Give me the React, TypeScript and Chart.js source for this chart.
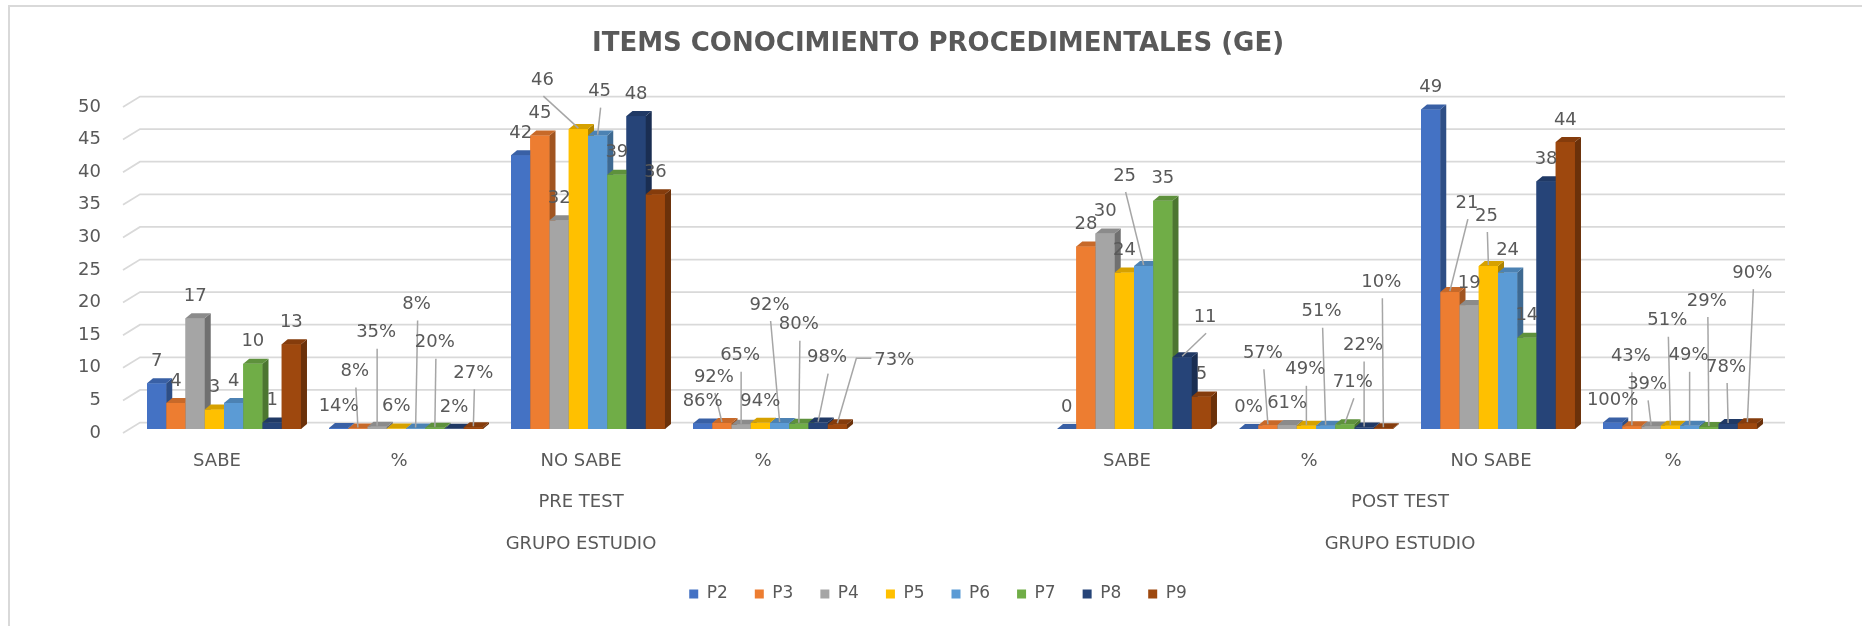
import React, { useEffect, useRef } from 'react';
import { Chart, registerables } from 'chart.js';

Chart.register(...registerables);

// ---------- DATA ----------
const TITLE = 'ITEMS CONOCIMIENTO PROCEDIMENTALES (GE)';
const CATEGORIES = ['SABE', '%', 'NO SABE', '%', '', 'SABE', '%', 'NO SABE', '%'];
const GROUP_LABELS = ['PRE TEST', 'POST TEST'];
const GROUP_RANGES: [number, number][] = [[0, 4], [5, 8]];
const SUPER_GROUP_LABEL = 'GRUPO ESTUDIO';
const SERIES_NAMES = ['P2', 'P3', 'P4', 'P5', 'P6', 'P7', 'P8', 'P9'];

const P2 = [7, 0.14, 42, 0.86, null, 0, 0, 49, 1.0];
const P3 = [4, 0.08, 45, 0.92, null, 28, 0.57, 21, 0.43];
const P4 = [17, 0.35, 32, 0.65, null, 30, 0.61, 19, 0.39];
const P5 = [3, 0.06, 46, 0.94, null, 24, 0.49, 25, 0.51];
const P6 = [4, 0.08, 45, 0.92, null, 25, 0.51, 24, 0.49];
const P7 = [10, 0.2, 39, 0.8, null, 35, 0.71, 14, 0.29];
const P8 = [1, 0.02, 48, 0.98, null, 11, 0.22, 38, 0.78];
const P9 = [13, 0.27, 36, 0.73, null, 5, 0.1, 44, 0.9];
const SERIES_VALUES = [P2, P3, P4, P5, P6, P7, P8, P9];

const Y_MIN = 0;
const Y_MAX = 50;
const Y_STEP = 5;

// ---------- STYLE ----------
const COLORS = ['#4472C4', '#ED7D31', '#A5A5A5', '#FFC000', '#5B9BD5', '#70AD47', '#264478', '#9E480E'];
const TEXT_COLOR = '#595959';
const GRID_COLOR = '#D9D9D9';
const FONT = '"DejaVu Sans", sans-serif';

// 3D depth of bars and walls (px)
const BAR_DX = 6;
const BAR_DY = 5;
const WALL_FRONT = [-10, 4];
const WALL_BACK = [7, -6.5];
const WALL_RIGHT_EXTRA = 14;
const X_LABEL_SHIFT = -7;

// manually dragged data labels: key "series-category" -> [dx, dy, sideLeader]
const LABEL_OFFSETS: Record<string, [number, number, boolean?]> = {
  '3-2': [-36, -27], '4-2': [2, -22],
  '1-1': [-3, -35], '2-1': [-1, -72], '4-1': [1, -102], '5-1': [0, -63], '7-1': [0, -32],
  '1-3': [-8, -24], '2-3': [-1, -47], '4-3': [-10, -96], '5-3': [0, -77], '6-3': [9, -43], '7-3': [57, -42, true],
  '4-5': [-19, -68], '6-5': [23, -18],
  '1-6': [-5, -50], '3-6': [-1, -34], '4-6': [-4, -92], '5-6': [8, -20], '6-6': [-1, -60], '7-6': [-2, -124],
  '1-7': [17, -67], '3-7': [-2, -28],
  '1-8': [-1, -48], '2-8': [-4, -20], '3-8': [-3, -83], '4-8': [-1, -48], '5-8': [-2, -104], '6-8': [-2, -35], '7-8': [5, -128],
};

function shade(hex: string, f: number): string {
  const n = parseInt(hex.slice(1), 16);
  const r = Math.round(((n >> 16) & 255) * f);
  const g = Math.round(((n >> 8) & 255) * f);
  const b = Math.round((n & 255) * f);
  return `rgb(${r},${g},${b})`;
}

const backgroundPlugin = {
  id: 'bgBorder',
  beforeDraw(chart: any) {
    const { ctx, width, height } = chart;
    ctx.save();
    ctx.fillStyle = '#FFFFFF';
    ctx.fillRect(0, 0, width, height);
    ctx.strokeStyle = GRID_COLOR;
    ctx.lineWidth = 2;
    ctx.beginPath();
    ctx.moveTo(9, height);
    ctx.lineTo(9, 6);
    ctx.lineTo(width, 6);
    ctx.stroke();
    ctx.restore();
  },
};

const wallGridPlugin = {
  id: 'wallGrid',
  beforeDatasetsDraw(chart: any) {
    const { ctx, chartArea } = chart;
    const ys = chart.scales.y;
    ctx.save();
    ctx.strokeStyle = GRID_COLOR;
    ctx.lineWidth = 1.75;
    for (let v = Y_MIN; v <= Y_MAX; v += Y_STEP) {
      const y = ys.getPixelForValue(v);
      ctx.beginPath();
      ctx.moveTo(chartArea.left + WALL_FRONT[0], y + WALL_FRONT[1]);
      ctx.lineTo(chartArea.left + WALL_BACK[0], y + WALL_BACK[1]);
      ctx.lineTo(chartArea.right + WALL_RIGHT_EXTRA, y + WALL_BACK[1]);
      ctx.stroke();
    }
    ctx.restore();
  },
};

// Redraws every bar as a 3D column, left series first so nearer columns overlap correctly
const bar3dPlugin = {
  id: 'bar3d',
  afterDatasetsDraw(chart: any) {
    const { ctx } = chart;
    ctx.save();
    chart.data.datasets.forEach((ds: any, si: number) => {
      const meta = chart.getDatasetMeta(si);
      const color = COLORS[si];
      meta.data.forEach((el: any, ci: number) => {
        const v = ds.data[ci];
        if (v === null || v === undefined) return;
        const { x, y, base, width } = el.getProps(['x', 'y', 'base', 'width'], true);
        const L = x - width / 2;
        const R = x + width / 2;
        ctx.fillStyle = color;
        ctx.fillRect(L, y, width + 0.3, base - y);
        ctx.fillStyle = shade(color, 0.68);
        ctx.beginPath();
        ctx.moveTo(R, y);
        ctx.lineTo(R + BAR_DX, y - BAR_DY);
        ctx.lineTo(R + BAR_DX, base - BAR_DY);
        ctx.lineTo(R, base);
        ctx.closePath();
        ctx.fill();
        ctx.fillStyle = shade(color, 0.84);
        ctx.beginPath();
        ctx.moveTo(L, y);
        ctx.lineTo(L + BAR_DX, y - BAR_DY);
        ctx.lineTo(R + BAR_DX, y - BAR_DY);
        ctx.lineTo(R, y);
        ctx.closePath();
        ctx.fill();
      });
    });
    ctx.restore();
  },
};

const dataLabelPlugin = {
  id: 'dataLabels3d',
  afterDatasetsDraw(chart: any) {
    const { ctx } = chart;
    ctx.save();
    ctx.font = `18px ${FONT}`;
    ctx.textAlign = 'center';
    ctx.textBaseline = 'middle';
    const items: { text: string; x: number; y: number }[] = [];
    ctx.strokeStyle = '#A6A6A6';
    ctx.lineWidth = 1.5;
    chart.data.datasets.forEach((ds: any, si: number) => {
      const meta = chart.getDatasetMeta(si);
      meta.data.forEach((el: any, ci: number) => {
        const v = ds.data[ci];
        if (v === null || v === undefined) return;
        const text = CATEGORIES[ci] === '%' ? `${Math.round(v * 100)}%` : String(v);
        let lx = el.x;
        let ly = el.y - 22;
        const off = LABEL_OFFSETS[`${si}-${ci}`];
        if (off) {
          lx += off[0];
          ly += off[1];
          ctx.beginPath();
          if (off[2]) {
            const w = ctx.measureText(text).width;
            const sx = lx - w / 2 - 3;
            ctx.moveTo(sx, ly - 2);
            ctx.lineTo(sx - 15, ly - 2);
            ctx.lineTo(el.x, el.y - 1);
          } else {
            ctx.moveTo(lx + 1, ly + 16);
            ctx.lineTo(el.x, el.y - 1);
          }
          ctx.stroke();
        }
        items.push({ text, x: lx, y: ly });
      });
    });
    ctx.fillStyle = TEXT_COLOR;
    items.forEach((it) => ctx.fillText(it.text, it.x, it.y));
    ctx.restore();
  },
};

const groupLabelPlugin = {
  id: 'groupLabels',
  afterDraw(chart: any) {
    const { ctx, chartArea } = chart;
    const xs = chart.scales.x;
    ctx.save();
    ctx.font = `18px ${FONT}`;
    ctx.fillStyle = TEXT_COLOR;
    ctx.textAlign = 'center';
    ctx.textBaseline = 'middle';
    GROUP_RANGES.forEach(([a, b], gi) => {
      const cx = (xs.getPixelForValue(a) + xs.getPixelForValue(b)) / 2 + X_LABEL_SHIFT;
      ctx.fillText(GROUP_LABELS[gi], cx, chartArea.bottom + 73);
      ctx.fillText(SUPER_GROUP_LABEL, cx, chartArea.bottom + 115);
    });
    ctx.restore();
  },
};

export default function App() {
  const ref = useRef<HTMLCanvasElement>(null);
  useEffect(() => {
    const canvas = ref.current;
    if (!canvas) return;
    const chart = new Chart(canvas, {
      type: 'bar',
      data: {
        labels: CATEGORIES,
        datasets: SERIES_NAMES.map((name, i) => ({
          label: name,
          data: SERIES_VALUES[i] as any,
          backgroundColor: COLORS[i],
          borderColor: COLORS[i],
          borderWidth: 0,
          categoryPercentage: 0.846,
          barPercentage: 1.0,
          yAxisID: 'y',
        })),
      },
      options: {
        animation: false,
        responsive: false,
        devicePixelRatio: 1,
        events: [],
        layout: { padding: { left: 40, right: 26, top: 0, bottom: 13.5 } },
        plugins: {
          title: {
            display: true,
            text: TITLE,
            color: TEXT_COLOR,
            font: { family: FONT, size: 26, weight: 'bold', lineHeight: 1.2 },
            padding: { top: 28.4, bottom: 43.4 },
          },
          legend: {
            display: true,
            position: 'bottom',
            labels: {
              boxWidth: 9,
              boxHeight: 9,
              padding: 27,
              color: TEXT_COLOR,
              font: { family: FONT, size: 17 },
            },
          },
          tooltip: { enabled: false },
        },
        scales: {
          x: {
            grid: { display: false, drawTicks: false },
            border: { display: false },
            ticks: {
              color: TEXT_COLOR,
              font: { family: FONT, size: 18 },
              padding: 22,
              labelOffset: X_LABEL_SHIFT,
              autoSkip: false,
              maxRotation: 0,
            },
            afterFit: (s: any) => {
              s.height = 129.5;
            },
          },
          y: {
            position: 'left',
            min: Y_MIN,
            max: Y_MAX,
            grid: { display: false, drawTicks: false },
            border: { display: false },
            ticks: {
              stepSize: Y_STEP,
              color: TEXT_COLOR,
              font: { family: FONT, size: 18 },
              padding: 32,
              labelOffset: WALL_FRONT[1],
            },
            afterFit: (s: any) => {
              s.width = 93;
            },
          },
          // empty right-hand space of the plot frame (keeps title/legend centred like the original)
          yRight: {
            type: 'linear',
            position: 'right',
            display: true,
            grid: { display: false, drawTicks: false },
            border: { display: false },
            ticks: { display: false },
            afterFit: (s: any) => {
              s.width = 65;
            },
          },
        },
      },
      plugins: [backgroundPlugin, wallGridPlugin, bar3dPlugin, dataLabelPlugin, groupLabelPlugin],
    } as any);
    return () => chart.destroy();
  }, []);
  return (
    <div style={{ position: 'fixed', left: 0, top: 0, width: 1862, height: 626, background: '#fff' }}>
      <canvas ref={ref} width={1862} height={626} style={{ display: 'block', width: 1862, height: 626 }} />
    </div>
  );
}
